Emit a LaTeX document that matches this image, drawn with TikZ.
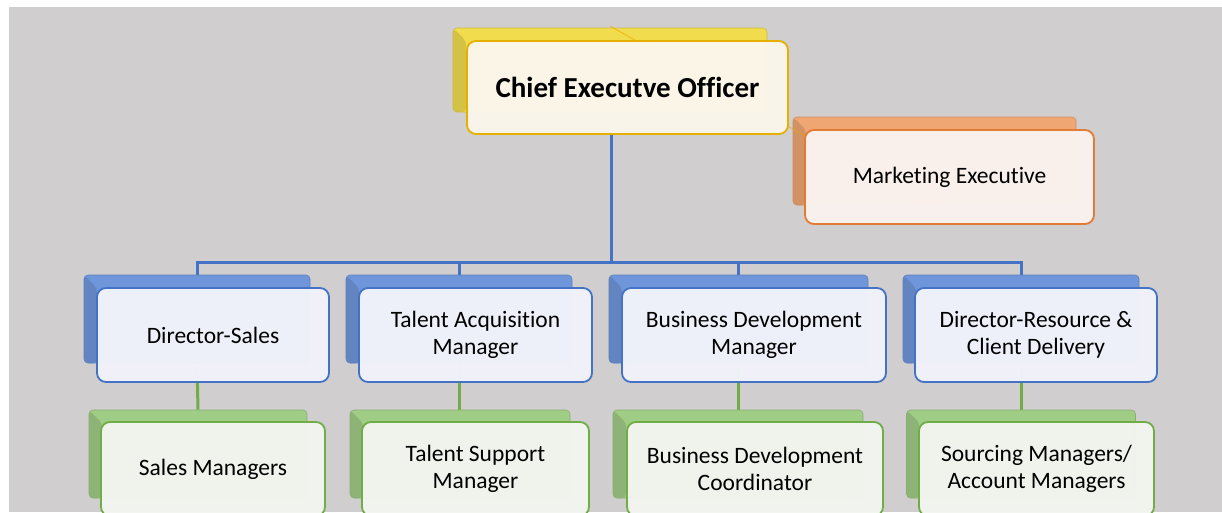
\documentclass[tikz,border=0pt]{standalone}
\usepackage{fontspec}
\setmainfont{Carlito}[Ligatures=CommonOff]
\definecolor{bgc}{HTML}{D0CECE}
\definecolor{blueb}{HTML}{4472C4}
\definecolor{bluek}{HTML}{6F96DB}
\definecolor{bluef}{HTML}{F2F3FA}
\definecolor{greenb}{HTML}{70AD47}
\definecolor{greenk}{HTML}{A0CD86}
\definecolor{greenf}{HTML}{F3F5F0}
\definecolor{orb}{HTML}{E47A33}
\definecolor{ork}{HTML}{F0A672}
\definecolor{orf}{HTML}{FAF2EF}
\definecolor{yelb}{HTML}{E6B000}
\definecolor{yelk}{HTML}{F0DC4C}
\definecolor{yelf}{HTML}{FBF6EB}
\tikzset{
  box/.style={rounded corners=9pt, line width=1.8pt, inner sep=0pt, align=center,
    font=\fontsize{23.5}{27}\selectfont, text=black, fill opacity=0.97, text opacity=1},
  back/.style={rounded corners=4pt, inner sep=0pt, draw=#1!85!black, line width=0.6pt, fill=#1,
    path picture={\fill[#1!88!black] (path picture bounding box.north west) -- ++(13pt,-13pt)
      -- ([xshift=13pt]path picture bounding box.south west) -- (path picture bounding box.south west) -- cycle;}},
  bluebox/.style={box, draw=blueb, fill=bluef},
  greenbox/.style={box, draw=greenb, fill=greenf},
  orbox/.style={box, draw=orb, fill=orf},
  yelbox/.style={box, draw=yelb, fill=yelf, font=\fontsize{29}{33}\selectfont\bfseries},
  bluelink/.style={draw=blueb, line width=3pt},
  greenlink/.style={draw=greenb, line width=3pt},
}
\begin{document}
\begin{tikzpicture}[x=1pt,y=-1pt]
\useasboundingbox (0,0) rectangle (1222,512);
\clip (0,0) rectangle (1222,512);
\fill[bgc] (9,7) rectangle (1222,512);
% back boxes
\node[back=yelk, minimum width=314pt, minimum height=84pt] (ceob) at (610,70) {};
\node[back=ork, minimum width=283pt, minimum height=88pt] (mkb) at (934.5,161) {};
\node[back=bluek, minimum width=226pt, minimum height=88pt] (dsb) at (197,319) {};
\node[back=bluek, minimum width=226pt, minimum height=88pt] (tab) at (459,319) {};
\node[back=bluek, minimum width=259pt, minimum height=88pt] (bdmb) at (738.5,319) {};
\node[back=bluek, minimum width=236pt, minimum height=88pt] (drb) at (1021,319) {};
\node[back=greenk, minimum width=218pt, minimum height=88pt] (smb) at (198,454) {};
\node[back=greenk, minimum width=220pt, minimum height=88pt] (tsb) at (460,454) {};
\node[back=greenk, minimum width=250pt, minimum height=88pt] (bdcb) at (738,454) {};
\node[back=greenk, minimum width=229pt, minimum height=88pt] (srcb) at (1021,454) {};
% faint assistant line
\coordinate (la) at (610,26);
\coordinate (lb) at (933,208);
\draw[yelb!80!orange, line width=1pt, opacity=0.6] (la) -- (lb);
% connectors (behind front boxes)
\coordinate (bus) at (611,262);
\draw[bluelink] (bus |- 0,134) -- (bus);
\draw[bluelink] (bus) -| (dsb.north);
\draw[bluelink] (bus) -| (tab.north);
\draw[bluelink] (bus) -| (bdmb.north);
\draw[bluelink] (bus) -| (drb.north);
\draw[greenlink] (dsb.south) -- (smb.north);
\draw[greenlink] (tab.south) -- (tab.south |- tsb.north);
\draw[greenlink] (bdmb.south) -- (bdmb.south |- bdcb.north);
\draw[greenlink] (drb.south) -- (drb.south |- srcb.north);
% front boxes
\node[yelbox, minimum width=321pt, minimum height=93pt] (ceo) at (627.5,87.5) {Chief Executve Officer};
\node[orbox, minimum width=289pt, minimum height=94pt] (mk) at (949.5,177) {Marketing Executive};
\node[bluebox, minimum width=232pt, minimum height=94pt] (ds) at (213,335) {Director-Sales};
\node[bluebox, minimum width=233pt, minimum height=94pt] (ta) at (475.5,335) {Talent Acquisition\\Manager};
\node[bluebox, minimum width=264pt, minimum height=94pt] (bdm) at (754,335) {Business Development\\Manager};
\node[bluebox, minimum width=242pt, minimum height=94pt] (dr) at (1036,335) {Director-Resource \&\\Client Delivery};
\node[greenbox, minimum width=224pt, minimum height=94pt] (sm) at (213,469) {Sales Managers};
\node[greenbox, minimum width=227pt, minimum height=94pt] (ts) at (475.5,469) {Talent Support\\Manager};
\node[greenbox, minimum width=256pt, minimum height=94pt] (bdc) at (755,469) {Business Development\\Coordinator};
\node[greenbox, minimum width=235pt, minimum height=94pt] (src) at (1036.5,469) {Sourcing Managers/\\Account Managers};
\end{tikzpicture}
\end{document}
